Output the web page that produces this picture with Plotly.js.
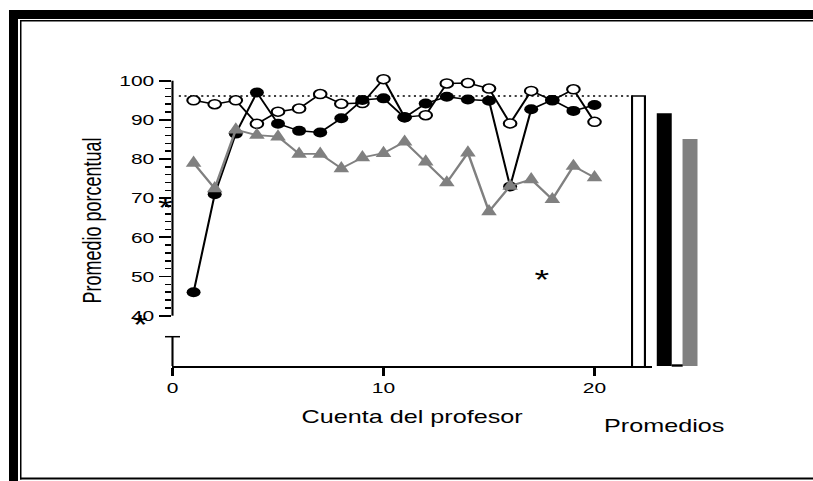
<!DOCTYPE html>
<html>
<head>
<meta charset="utf-8">
<script src="https://cdn.plot.ly/plotly-3.0.1.min.js"></script>
<style>
  html, body { margin: 0; padding: 0; background: #fff; overflow: hidden; }
  #wrap { width: 813px; height: 481px; overflow: hidden; }
  /* the figure is laid out narrow and widened horizontally */
  #chart { width: 581px; height: 481px; transform: scaleX(1.399311); transform-origin: 0 0; }
</style>
</head>
<body>
<div id="wrap"><div id="chart"></div></div>
<script>
// Teacher count (x) and the three percentage series
const cuenta = [1, 2, 3, 4, 5, 6, 7, 8, 9, 10, 11, 12, 13, 14, 15, 16, 17, 18, 19, 20];
const serieAbierta = [95, 94, 95, 89, 92.1, 92.9, 96.6, 94.1, 94.3, 100.4, 90.7, 91.2, 99.3, 99.4, 98, 89.1, 97.4, 95, 97.8, 89.5];
const serieNegra = [46, 71, 86.5, 97, 89, 87.2, 86.8, 90.4, 95.1, 95.5, 90.6, 94.2, 95.9, 95.2, 94.9, 73, 92.7, 95.1, 92.3, 93.8];
const serieGris = [79, 72.5, 87.5, 86.1, 85.7, 81.3, 81.3, 77.6, 80.4, 81.5, 84.4, 79.3, 74, 81.6, 66.6, 73.1, 74.8, 69.7, 78.2, 75.3];

// Averages shown as bars on the right
const promedios = [96.1, 91.5, 84.9];
const posPromedios = [1, 2, 3];

// Axis ticks
const yTicks = [40, 50, 60, 70, 80, 90, 100];
const xTicks = [0, 10, 20];

// ---- geometry helpers (figure pixels -> paper fractions) ----
const FW = 813, FH = 481;
const px = X => X / FW;
const py = Y => 1 - Y / FH;

const Y_BOTTOM = 366, Y_TOP = 75;
const yMin = 27.16, yMax = 101.46;
const yDom = [py(Y_BOTTOM), py(Y_TOP)];
const yPaper = v => yDom[0] + (v - yMin) / (yMax - yMin) * (yDom[1] - yDom[0]);
const breakTop = 34.64;
const AX_X = 172.5;

// minor ticks every 2 units between the labelled ticks
const minorVals = [];
for (let v = yTicks[0]; v < yTicks[yTicks.length - 1]; v += 2) {
  if (v % 10 !== 0) minorVals.push(v);
}

const black = '#000000';
const gray = '#808080';

const traces = [
  {
    type: 'bar', x: posPromedios, y: promedios, xaxis: 'x2', yaxis: 'y',
    width: 0.5,
    marker: { color: ['#ffffff', black, gray], line: { color: [black, black, gray], width: 1.5 } },
    hoverinfo: 'skip'
  },
  {
    // reference line at the first average
    x: [0.3, 21.82], y: [promedios[0], promedios[0]], mode: 'lines',
    line: { color: black, width: 1.5, dash: '1.5px,2.5px' },
    hoverinfo: 'skip', cliponaxis: false
  },
  {
    x: cuenta, y: serieAbierta, mode: 'lines+markers',
    line: { color: black, width: 1.5 },
    marker: { symbol: 'circle', size: 9, color: '#ffffff', line: { color: black, width: 1.5 } },
    cliponaxis: false
  },
  {
    x: cuenta, y: serieNegra, mode: 'lines+markers',
    line: { color: black, width: 1.5 },
    marker: { symbol: 'circle', size: 10, color: black },
    cliponaxis: false
  },
  {
    x: cuenta, y: serieGris, mode: 'lines+markers',
    line: { color: gray, width: 1.8 },
    marker: { symbol: 'triangle-up', size: 11, color: gray },
    cliponaxis: false
  },
  // carrier for the minor-tick axis
  { x: [], y: [], xaxis: 'x', yaxis: 'y2', mode: 'markers', hoverinfo: 'skip' }
];

const frame = [
  { type: 'rect', xref: 'paper', yref: 'paper', x0: px(9), x1: 1.01, y0: py(19), y1: py(10), fillcolor: black, line: { width: 0 } },
  { type: 'rect', xref: 'paper', yref: 'paper', x0: px(9), x1: px(18), y0: -0.01, y1: py(10), fillcolor: black, line: { width: 0 } },
  { type: 'rect', xref: 'paper', yref: 'paper', x0: px(20), x1: 1.01, y0: py(21.5), y1: py(20), fillcolor: black, line: { width: 0 } },
  { type: 'rect', xref: 'paper', yref: 'paper', x0: px(20), x1: px(21.5), y0: py(479.5), y1: py(20), fillcolor: black, line: { width: 0 } },
  { type: 'rect', xref: 'paper', yref: 'paper', x0: px(20), x1: 1.01, y0: py(479.5), y1: py(477.5), fillcolor: black, line: { width: 0 } }
];

const axisBits = [
  // broken y axis: main segment, lower stub and its cap
  { type: 'line', xref: 'paper', yref: 'paper', x0: px(AX_X), x1: px(AX_X), y0: yPaper(yTicks[0]), y1: yPaper(yTicks[yTicks.length - 1]), line: { color: black, width: 1.5 } },
  { type: 'line', xref: 'paper', yref: 'paper', x0: px(AX_X), x1: px(AX_X), y0: yPaper(yMin), y1: yPaper(breakTop), line: { color: black, width: 1.5 } },
  { type: 'line', xref: 'paper', yref: 'paper', x0: px(165), x1: px(180), y0: yPaper(breakTop), y1: yPaper(breakTop), line: { color: black, width: 1.5 } },
  // small base segment between the dark and grey bars
  { type: 'rect', xref: 'paper', yref: 'paper', x0: px(671.7), x1: px(682.7), y0: py(366.7), y1: py(364.3), fillcolor: black, line: { width: 0 } }
];

const star = (X, Y) => ({
  text: '*', xref: 'paper', yref: 'paper', x: px(X), y: py(Y),
  xanchor: 'center', yanchor: 'middle', showarrow: false,
  font: { size: 27, color: black }
});

const layout = {
  width: 581, height: 481, autosize: false,
  margin: { l: 0, r: 0, t: 0, b: 0, pad: 0 },
  paper_bgcolor: '#ffffff', plot_bgcolor: 'rgba(0,0,0,0)',
  font: { family: 'Liberation Sans, Arial, sans-serif', color: black },
  showlegend: false,
  bargap: 0,
  xaxis: {
    domain: [px(AX_X), px(651.7)], range: [0, 22.71], anchor: 'y',
    tickmode: 'array', tickvals: xTicks, ticktext: xTicks.map(String),
    ticks: 'outside', ticklen: 8, tickwidth: 1.5, tickcolor: black,
    tickfont: { size: 15 },
    showline: true, linecolor: black, linewidth: 1.5,
    showgrid: false, zeroline: false,
    title: { text: 'Cuenta del profesor', font: { size: 18 }, standoff: 15 }
  },
  xaxis2: {
    domain: [px(625.6), px(702.9)], range: [0.5, 3.5], anchor: 'y',
    showticklabels: false, ticks: '', showline: false, showgrid: false, zeroline: false,
    title: { text: 'Promedios', font: { size: 18 }, standoff: 53 }
  },
  yaxis: {
    domain: yDom, range: [yMin, yMax], anchor: 'x',
    tickmode: 'array', tickvals: yTicks, ticktext: yTicks.map(String),
    ticks: 'outside', ticklen: 9, tickwidth: 1.8, tickcolor: black,
    tickfont: { size: 15 },
    showline: false, showgrid: false, zeroline: false,
    title: { text: 'Promedio porcentual', font: { size: 18 }, standoff: 7 }
  },
  yaxis2: {
    overlaying: 'y', anchor: 'x', side: 'left', range: [yMin, yMax],
    tickmode: 'array', tickvals: minorVals,
    ticks: 'outside', ticklen: 4.5, tickwidth: 1.5, tickcolor: black,
    showticklabels: false, showline: false, showgrid: false, zeroline: false
  },
  shapes: frame.concat(axisBits),
  annotations: [star(542.7, 280), star(166, 208), star(141, 325)]
};

Plotly.newPlot('chart', traces, layout, { staticPlot: true, displayModeBar: false }).then(gd => {
  // make the triangles taller and a little narrower
  gd.querySelectorAll('.scatterlayer .trace').forEach((tr, i) => {
    if (i !== 3) return;
    tr.querySelectorAll('.points path').forEach(p => {
      const t = p.getAttribute('transform') || '';
      p.setAttribute('transform', t + ' scale(0.88,1.35)');
    });
  });
});
</script>
</body>
</html>
